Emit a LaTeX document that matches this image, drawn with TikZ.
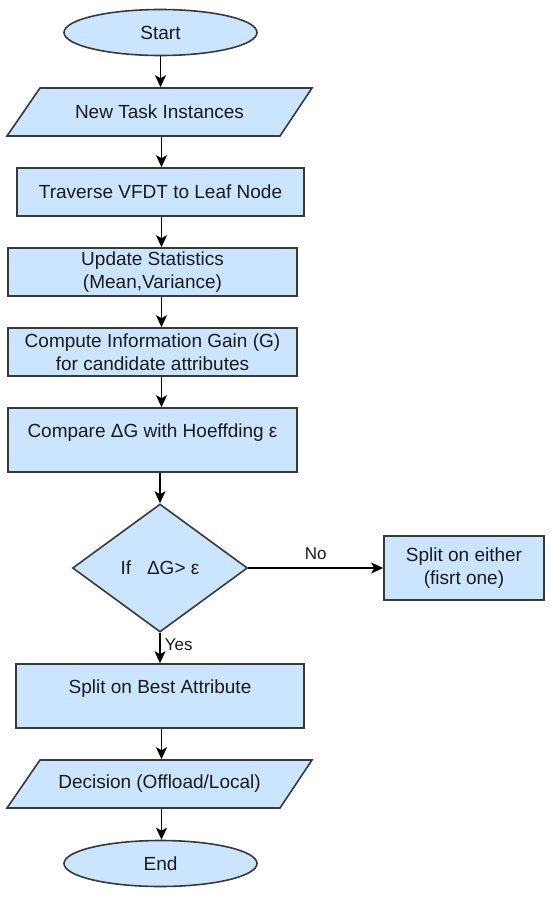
\documentclass[tikz,border=0pt]{standalone}
\usepackage{fontspec}
\setmainfont{Liberation Sans}
\usetikzlibrary{shapes.geometric,arrows.meta}
\definecolor{boxfill}{HTML}{CCE5FF}
\definecolor{boxline}{HTML}{36393D}
\definecolor{txt}{HTML}{1A1A1A}
\begin{document}
\begin{tikzpicture}[x=1pt,y=-1pt,
  base/.style={draw=boxline,fill=boxfill,line width=1.6pt,text=txt,align=center,inner sep=2pt,
    font=\fontsize{19}{23}\selectfont},
  term/.style={base,ellipse,minimum width=193,minimum height=46},
  procbox/.style={base,rectangle,minimum height=48},
  tallbox/.style={base,rectangle,minimum height=64,text height=14pt,text depth=20pt},
  paratext/.style={base,draw=none,fill=none,rectangle,minimum width=273,minimum height=48},
  parashape/.style={draw=boxline,fill=boxfill,line width=1.6pt,line join=miter},
  decide/.style={base,diamond,minimum width=175,minimum height=128,inner sep=0pt},
  flow/.style={draw=black,line width=1.8pt,-{Stealth[length=12pt,width=11pt,inset=3pt]}},
  lbl/.style={text=txt,font=\fontsize{17}{20}\selectfont,inner sep=1pt}]
\useasboundingbox (0,0) rectangle (550,897);
\fill[white] (0,0) rectangle (550,897);

% terminals
\node[term] (start) at (160.5,32.5) {Start};
\node[term] (stop) at (160.5,863.5) {End};

% parallelograms
\path[parashape] (7,136) -- (40,88) -- (312,88) -- (280,136) -- cycle;
\node[paratext] (newtask) at (159.5,112) {New Task Instances};
\path[parashape] (7,808) -- (40,760) -- (312,760) -- (280,808) -- cycle;
\node[paratext] (decision) at (159.5,784) {Decision (Offload/Local)};

% process boxes
\node[procbox,minimum width=287] (traverse) at (160.5,192) {Traverse VFDT to Leaf Node};
\node[procbox,minimum width=289] (update) at (152.5,272) {Update Statistics\\(Mean,Variance)};
\node[procbox,minimum width=289] (compute) at (152.5,352) {Compute Information Gain (G)\\for candidate attributes};
\node[tallbox,minimum width=289] (compare) at (152.5,440) {Compare ΔG with Hoeffding ε};
\node[decide] (test) at (160,568) {If\ \ \ ΔG> ε};
\node[base,rectangle,minimum width=160,minimum height=64] (splitfirst) at (464,568) {Split on either\\(fisrt one)};
\node[tallbox,minimum width=288] (splitbest) at (160,696) {Split on Best Attribute};

% connectors
\coordinate (col) at (161.5,0);
\draw[flow] (start.south) -- (newtask.north -| start.south);
\draw[flow] (col |- newtask.south) -- (col |- traverse.north);
\draw[flow] (col |- traverse.south) -- (col |- update.north);
\draw[flow] (col |- update.south) -- (col |- compute.north);
\draw[flow] (col |- compute.south) -- (col |- compare.north);
\draw[flow] (test.north |- compare.south) -- (test.north);
\draw[flow] (test.east) -- node[lbl,above=6pt] (nolbl) {No} (splitfirst.west);
\draw[flow] (test.south) -- node[lbl,pos=0.4,right=3pt] (yeslbl) {Yes} (splitbest.north);
\draw[flow] (col |- splitbest.south) -- (col |- decision.north);
\draw[flow] (col |- decision.south) -- (stop.north -| col);
\end{tikzpicture}
\end{document}
